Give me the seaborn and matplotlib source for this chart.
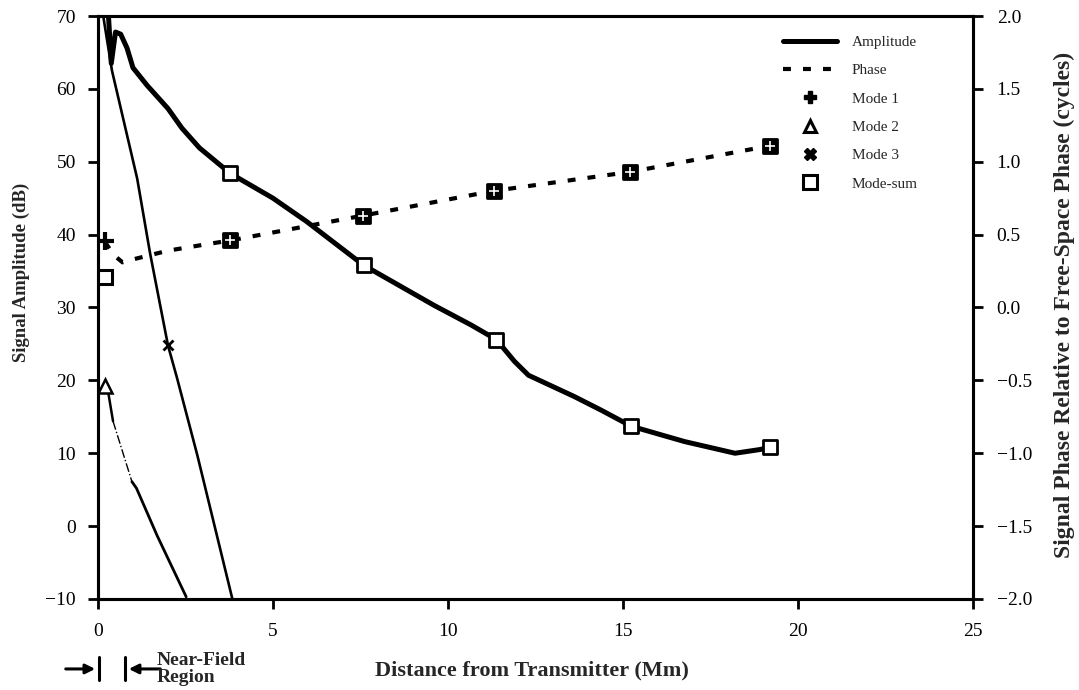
# ==================================
# Signal amplitude / phase vs distance
# ==================================

import matplotlib
matplotlib.use("Agg")
import matplotlib.pyplot as plt
import matplotlib.transforms as mtransforms
from matplotlib.lines import Line2D
import seaborn as sns

# -------------------------------
# Data
# -------------------------------
# mode-sum amplitude (thick solid curve), dB
amp_x = [0.3, 0.38, 0.5, 0.65, 0.83, 1.0, 1.4, 2.0, 2.4, 2.9, 3.78, 5.0, 5.96,
         7.59, 9.6, 10.66, 11.38, 11.9, 12.3, 13.6, 14.38, 15.24, 16.76, 18.2,
         18.9, 19.2]
amp_db = [70, 63.5, 67.8, 67.5, 65.6, 62.9, 60.5, 57.3, 54.6, 51.9, 48.4, 45.0,
          41.8, 35.8, 30.3, 27.6, 25.6, 22.6, 20.7, 17.8, 15.9, 13.7, 11.6, 10.0,
          10.5, 10.8]

# mode-sum markers on the amplitude curve
sum_x = [3.78, 7.59, 11.38, 15.24, 19.2]
sum_db = [48.4, 35.8, 25.6, 13.7, 10.8]

# phase (dashed curve), cycles
phase_x = [0.2, 0.45, 0.7, 1.0, 2.0, 3.0, 3.78, 7.56, 11.3, 15.2, 19.2]
phase_cyc = [0.45, 0.36, 0.31, 0.33, 0.39, 0.43, 0.46, 0.63, 0.80, 0.93, 1.11]

# phase markers (mode-sum / modes overlap)
phase_mark_x = [3.78, 7.56, 11.3, 15.2, 19.2]
phase_mark_cyc = [0.46, 0.63, 0.80, 0.93, 1.11]

# mode amplitudes near the transmitter
mode2_x = [0.26, 0.43, 0.97, 1.1, 1.69, 2.52]
mode2_db = [19.3, 14.4, 6.1, 5.2, -1.3, -9.7]

mode3_x = [0.15, 0.4, 1.12, 1.49, 2.0, 2.26, 2.84, 3.84]
mode3_db = [70, 62.5, 47.7, 37.4, 24.8, 20.3, 9.7, -10]

# single start markers
mode1_start = (0.2, 39.1)
mode2_start = (0.2, 19.2)
sum_start = (0.2, 34.2)
mode3_mark = (2.0, 24.8)

# -------------------------------
# Style
# -------------------------------
sns.set_theme(style="ticks")
plt.rcParams["font.family"] = ["Liberation Serif", "DejaVu Serif"]
plt.rcParams["axes.unicode_minus"] = True

fig = plt.figure(figsize=(10.79, 6.9), dpi=100)
ax = fig.add_axes([0.0908, 0.1319, 0.8110, 0.8449])
ax2 = ax.twinx()

k = dict(color="black", estimator=None, sort=False, legend=False)

# amplitude
sns.lineplot(x=amp_x, y=amp_db, ax=ax, lw=3.6, **k)
sns.scatterplot(x=sum_x, y=sum_db, ax=ax, marker="s", s=110, facecolor="white",
                edgecolor="black", linewidth=2, zorder=5, legend=False)

# mode lines
sns.lineplot(x=mode3_x, y=mode3_db, ax=ax, lw=1.9, **k)
sns.lineplot(x=mode2_x[:2], y=mode2_db[:2], ax=ax, lw=1.8, **k)
sns.lineplot(x=mode2_x[1:3], y=mode2_db[1:3], ax=ax, lw=1.0, linestyle="-.", **k)
sns.lineplot(x=mode2_x[2:], y=mode2_db[2:], ax=ax, lw=2.0, **k)

ax.plot(*mode1_start, marker="+", ms=13, mew=3, color="black", zorder=6)
ax.plot(*sum_start, marker="s", ms=10, mfc="white", mec="black", mew=2.2, zorder=6)
ax.plot(*mode2_start, marker="^", ms=10, mfc="white", mec="black", mew=1.8, zorder=6)
ax.plot(*mode3_mark, marker="x", ms=7, mew=2, color="black", zorder=6)

# phase
sns.lineplot(x=phase_x, y=phase_cyc, ax=ax2, lw=3.0, linestyle=(0, (1.9, 2.9)), **k)
sns.scatterplot(x=phase_mark_x, y=phase_mark_cyc, ax=ax2, marker="s", s=110,
                facecolor="black", edgecolor="black", linewidth=2, zorder=5, legend=False)
sns.scatterplot(x=phase_mark_x, y=phase_mark_cyc, ax=ax2, marker="+", s=60,
                color="white", linewidth=1.2, zorder=6, legend=False)

# -------------------------------
# Axes
# -------------------------------
ax.set_xlim(0, 25)
ax.set_ylim(-10, 70)
ax2.set_ylim(-2, 2)
ax.set_xticks([0, 5, 10, 15, 20, 25])
ax.set_yticks(range(-10, 71, 10))
ax2.set_yticks([-2.0, -1.5, -1.0, -0.5, 0.0, 0.5, 1.0, 1.5, 2.0])
ax2.set_yticklabels([f"{v:.1f}".replace("-", "\u2212") for v in
                     [-2.0, -1.5, -1.0, -0.5, 0.0, 0.5, 1.0, 1.5, 2.0]])

for a in (ax, ax2):
    for sp in a.spines.values():
        sp.set_linewidth(2.2)
        sp.set_color("black")
        sp.set_visible(True)
    a.tick_params(axis="both", direction="out", length=7, width=2,
                  labelsize=14, colors="black")
    a.grid(False)
ax.tick_params(axis="x", pad=10)
ax.tick_params(axis="y", pad=9)
ax2.tick_params(axis="y", pad=10)

ax.set_xlabel("Distance from Transmitter (Mm)", fontsize=16, fontweight="bold")
ax.set_ylabel("Signal Amplitude (dB)", fontsize=13.5, fontweight="bold")
ax2.set_ylabel("Signal Phase Relative to Free-Space Phase (cycles)",
               fontsize=17, fontweight="bold")
ax.xaxis.label.set_va("center")
ax.yaxis.label.set_va("center")
ax2.yaxis.label.set_va("center")
ax.xaxis.set_label_coords(0.496, -0.122)
ax.yaxis.set_label_coords(-0.087, 0.56)
ax2.yaxis.set_label_coords(1.104, 0.504)

# -------------------------------
# Legend
# -------------------------------
handles = [
    Line2D([], [], color="black", lw=3.6),
    Line2D([], [], color="black", lw=3.0, linestyle=(0, (1.9, 2.9))),
    Line2D([], [], color="black", lw=0, marker="P", ms=9),
    Line2D([], [], color="black", lw=0, marker="^", ms=9, mfc="white", mew=2.2),
    Line2D([], [], color="black", lw=0, marker="X", ms=8),
    Line2D([], [], color="black", lw=0, marker="s", ms=10, mfc="white", mew=2.2),
]
labels = ["Amplitude", "Phase", "Mode 1", "Mode 2", "Mode 3", "Mode-sum"]
ax2.legend(handles, labels, loc="upper left", bbox_to_anchor=(0.783, 0.967),
           frameon=False, fontsize=11, handlelength=3.5, handletextpad=1.0,
           labelspacing=0.96, borderpad=0, borderaxespad=0)

# -------------------------------
# Near-field annotation
# -------------------------------
trans = mtransforms.blended_transform_factory(ax.transData, ax.transAxes)
arrow = dict(arrowstyle="-|>", color="black", lw=2.2, mutation_scale=14)
ax.annotate("", xy=(0.0, -0.12), xytext=(-1.0, -0.12), xycoords=trans,
            textcoords=trans, arrowprops=arrow, annotation_clip=False)
ax.annotate("", xy=(0.8, -0.12), xytext=(1.86, -0.12), xycoords=trans,
            textcoords=trans, arrowprops=arrow, annotation_clip=False)
for bx in (0.03, 0.77):
    ax.plot([bx, bx], [-0.1, -0.139], transform=trans, color="black", lw=2.2,
            clip_on=False)
ax.text(1.69, -0.12, "Near-Field\nRegion", transform=trans, fontsize=14,
        fontweight="bold", ha="left", va="center", linespacing=1.0)

fig.savefig("out.png", dpi=100)
